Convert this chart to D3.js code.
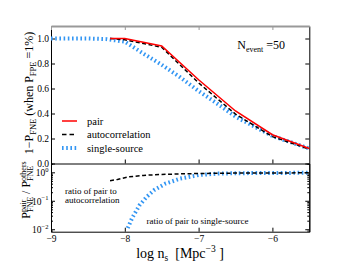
<!DOCTYPE html>
<html><head><meta charset="utf-8">
<script src="https://d3js.org/d3.v7.min.js"></script>
<style>
body{margin:0;background:#fff}
svg{display:block;font-family:"Liberation Serif","DejaVu Serif",serif}
svg text{white-space:pre}
</style></head><body>
<svg></svg>
<script>
// top panel: 1 - P_FNE against log n_s
const pairX = [-8.2, -8.0, -7.5, -7.0, -6.5, -6.0, -5.5];
const pairY = [1.0, 1.0, 0.94, 0.67, 0.42, 0.23, 0.12];
const autoX = [-8.2, -8.0, -7.5, -7.0, -6.5, -6.0, -5.5];
const autoY = [1.0, 0.99, 0.93, 0.645, 0.395, 0.215, 0.115];
const singleX = [-9.0, -8.5, -8.25, -8.0, -7.75, -7.5, -7.25, -7.0, -6.75, -6.5, -6.0, -5.5];
const singleY = [1.0, 1.0, 0.995, 0.975, 0.88, 0.79, 0.69, 0.58, 0.48, 0.375, 0.22, 0.12];

// bottom panel: ratios (log)
const ratioAutoX = [-8.2, -8.1, -7.95, -7.75, -7.5, -7.25, -7.0, -6.5, -6.0, -5.5];
const ratioAutoY = [0.51, 0.56, 0.69, 0.78, 0.84, 0.88, 0.91, 0.94, 0.95, 0.96];
const ratioSingleX = [-7.96, -7.9, -7.8, -7.7, -7.6, -7.45, -7.25, -7.0, -6.75, -6.5, -6.0, -5.5];
const ratioSingleY = [0.011, 0.025, 0.07, 0.14, 0.24, 0.40, 0.60, 0.80, 0.90, 0.93, 0.95, 0.96];

const xTicks = [-9, -8, -7, -6];
const topTicks = [0, 0.2, 0.4, 0.6, 0.8, 1.0];
const logTicks = [1, 0.1, 0.01];

const margin = {left: 51, top: 26};
const width = 258.3;
const hTop = 137.5, hBot = 68.2;

const svg = d3.select("svg").attr("width", 360).attr("height", 270);
const g = svg.append("g").attr("transform", `translate(${margin.left},${margin.top})`);

const x = d3.scaleLinear().domain([-9, -5.5]).range([0, width]);
const yTop = d3.scaleLinear().domain([0, 1.1]).range([hTop, 0]);
const yBot = d3.scaleLog().domain([0.0082, 2.04]).range([hTop + hBot, hTop]);

// rich text: pieces laid out left to right, "stack" puts a piece above/below the previous one
function rich(parent, pieces, anchor) {
  const gg = parent.append("g").attr("text-anchor", "start").attr("fill", "#000")
    .attr("font-family", "Liberation Serif");
  let cx = 0, prevX = 0, prevW = 0;
  for (const p of pieces) {
    const x0 = p.stack ? prevX : cx;
    const t = gg.append("text").attr("x", x0).attr("y", p.dy || 0)
      .attr("font-size", p.s).text(p.t);
    const w = t.node().getComputedTextLength();
    cx = p.stack ? x0 + Math.max(prevW, w) : x0 + w;
    prevX = x0; prevW = w;
  }
  const shift = anchor === "middle" ? -cx / 2 : anchor === "end" ? -cx : 0;
  gg.selectAll("text").attr("x", function () { return +this.getAttribute("x") + shift; });
  return gg;
}

function styleAxis(sel, color) {
  sel.selectAll("path").attr("stroke", color || "#000");
  sel.selectAll("line").attr("stroke", color || "#000");
  sel.selectAll("text").attr("font-family", "Liberation Serif").attr("font-size", 9.5).attr("fill", "#000");
}

// ---- top panel axes
g.append("g").call(d3.axisLeft(yTop).tickValues(topTicks).tickSize(-4).tickSizeOuter(0)
  .tickPadding(2).tickFormat(d3.format(".1f"))).call(styleAxis);
g.append("g").attr("transform", `translate(${width},0)`)
  .call(d3.axisRight(yTop).tickValues(topTicks).tickSize(-4).tickSizeOuter(0).tickFormat(""))
  .call(styleAxis);
g.append("g").call(d3.axisTop(x).tickValues(xTicks).tickSize(-4).tickSizeOuter(0).tickFormat(""))
  .call(s => styleAxis(s, "#999")).select(".domain").attr("stroke-width", 2);
g.append("g").attr("transform", `translate(0,${hTop})`)
  .call(d3.axisBottom(x).tickValues(xTicks).tickSize(-4).tickSizeOuter(0).tickFormat(""))
  .call(styleAxis);

// ---- bottom panel axes
const minorOnly = yBot.ticks().filter(v => Math.abs(Math.log10(v) - Math.round(Math.log10(v))) > 1e-6);
const leftAx = g.append("g").call(d3.axisLeft(yBot).tickValues(logTicks).tickSize(-4).tickSizeOuter(0)
  .tickPadding(3).tickFormat("")).call(styleAxis);
leftAx.selectAll(".tick").each(function (d) {
  const e = Math.round(Math.log10(d));
  rich(d3.select(this), [
    {t: "10", s: 9.5},
    {t: e === 0 ? "0" : "−" + (-e), s: 6.5, dy: -4.5}
  ], "end").attr("transform", "translate(-2.5,3.5)");
});
g.append("g").call(d3.axisLeft(yBot).tickValues(minorOnly).tickSize(-2).tickSizeOuter(0).tickFormat(""))
  .call(styleAxis);
g.append("g").attr("transform", `translate(${width},0)`)
  .call(d3.axisRight(yBot).tickValues(logTicks).tickSize(-4).tickSizeOuter(0).tickFormat(""))
  .call(styleAxis);
g.append("g").attr("transform", `translate(${width},0)`)
  .call(d3.axisRight(yBot).tickValues(minorOnly).tickSize(-2).tickSizeOuter(0).tickFormat(""))
  .call(styleAxis);
g.append("g").attr("transform", `translate(0,${hTop + hBot})`)
  .call(d3.axisBottom(x).tickValues(xTicks).tickSize(-4).tickSizeOuter(0).tickPadding(4)
    .tickFormat(d3.format("d"))).call(styleAxis);

// ---- lines
const lineTop = d3.line().x(d => x(d[0])).y(d => yTop(d[1]));
const lineBot = d3.line().x(d => x(d[0])).y(d => yBot(d[1]));
const zip = (a, b) => a.map((v, i) => [v, b[i]]);

const blue = "#3396f3";
g.append("path").datum(zip(singleX, singleY)).attr("d", lineTop)
  .attr("fill", "none").attr("stroke", blue).attr("stroke-width", 4).attr("stroke-dasharray", "1.6,2.6");
g.append("path").datum(zip(autoX, autoY)).attr("d", lineTop)
  .attr("fill", "none").attr("stroke", "#000").attr("stroke-width", 1.5).attr("stroke-dasharray", "4,2.5");
g.append("path").datum(zip(pairX, pairY)).attr("d", lineTop)
  .attr("fill", "none").attr("stroke", "#f00").attr("stroke-width", 1.5);

g.append("path").datum(zip(ratioSingleX, ratioSingleY)).attr("d", lineBot)
  .attr("fill", "none").attr("stroke", blue).attr("stroke-width", 4).attr("stroke-dasharray", "1.6,2.6");
g.append("path").datum(zip(ratioAutoX, ratioAutoY)).attr("d", lineBot)
  .attr("fill", "none").attr("stroke", "#000").attr("stroke-width", 1.5).attr("stroke-dasharray", "4,2.5");

// ---- legend
const legend = [
  {name: "pair", color: "#f00", w: 1.5, dash: null},
  {name: "autocorrelation", color: "#000", w: 1.5, dash: "4.5,3"},
  {name: "single-source", color: blue, w: 4, dash: "1.6,2.6"}
];
const lg = g.append("g").attr("transform", "translate(11,95)");
legend.forEach((d, i) => {
  lg.append("line").attr("x1", 0).attr("x2", 15).attr("y1", i * 13.5).attr("y2", i * 13.5)
    .attr("stroke", d.color).attr("stroke-width", d.w).attr("stroke-dasharray", d.dash);
  lg.append("text").attr("x", 25).attr("y", i * 13.5 + 3.5).attr("font-size", 10.5).text(d.name);
});

// ---- annotations
rich(g, [{t: "N", s: 12}, {t: "event", s: 8, dy: 3}, {t: " =50", s: 12}], "end")
  .attr("transform", "translate(234,23)");
g.append("text").attr("x", 14).attr("y", 168).attr("font-size", 9).text("ratio of pair to");
g.append("text").attr("x", 14).attr("y", 177).attr("font-size", 9).text("autocorrelation");
g.append("text").attr("x", 95.5).attr("y", 198).attr("font-size", 9).text("ratio of pair to single-source");

// ---- axis labels
rich(svg, [
  {t: "1−P", s: 12}, {t: "FNE", s: 8.5, dy: 3}, {t: " (when P", s: 12},
  {t: "FPE", s: 8.5, dy: 3}, {t: " =1%)", s: 12}
], "middle").attr("transform", "translate(33,93) rotate(-90)");
rich(svg, [
  {t: "P", s: 12}, {t: "pair", s: 8, dy: -4.5}, {t: "FNE", s: 8, dy: 3, stack: true},
  {t: " / P", s: 12}, {t: "others", s: 8, dy: -4.5}, {t: "FNE", s: 8, dy: 3, stack: true}
], "middle").attr("transform", "translate(30,190) rotate(-90)");
rich(svg, [
  {t: "log n", s: 14}, {t: "s", s: 9.5, dy: 3}, {t: "  [Mpc", s: 14},
  {t: "−3", s: 9.5, dy: -6}, {t: " ]", s: 14}
], "middle").attr("transform", "translate(180,258)");
</script>
</body></html>
